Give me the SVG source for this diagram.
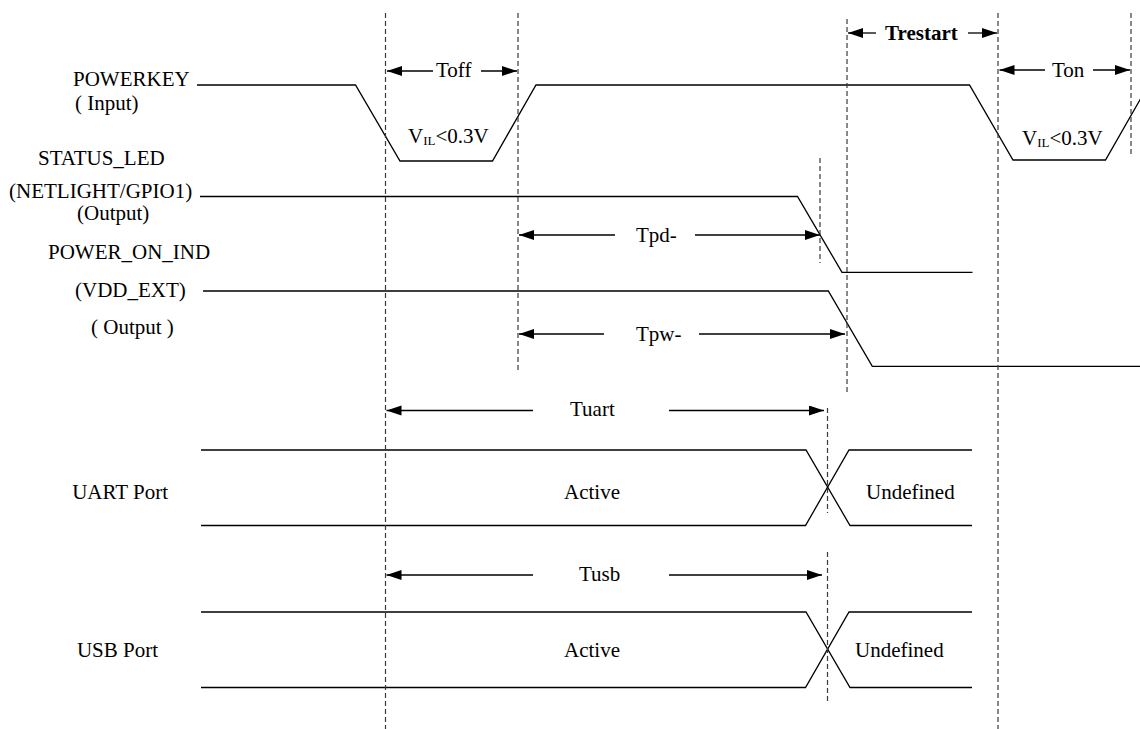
<svg xmlns="http://www.w3.org/2000/svg" width="1140" height="729" viewBox="0 0 1140 729">
  <defs>
    <marker id="ah" markerUnits="userSpaceOnUse" markerWidth="16" markerHeight="12" refX="15" refY="5" orient="auto">
      <path d="M0,0 L15,5 L0,10 z" fill="#000"/>
    </marker>
    <style>
      .sig { fill: none; stroke: #000; stroke-width: 1.3; }
      .dash { fill: none; stroke: #3a3a3a; stroke-width: 1.2; stroke-dasharray: 5 3; }
      .arr { fill: none; stroke: #000; stroke-width: 1.3; marker-end: url(#ah); }
      text { font-family: "Liberation Serif", "Times New Roman", "DejaVu Serif", serif; font-size: 21px; fill: #000; }
      .b { font-weight: bold; }
    </style>
  </defs>
  <rect width="1140" height="729" fill="#fff"/>

  <g id="powerkey">
    <text x="73" y="86">POWERKEY</text>
    <text x="75" y="110">( Input)</text>
    <path class="sig" d="M197,85 H355.5 L400,161 H492.5 L536,85 H969.5 L1013,160 H1105.5 L1149,84"/>
    <text x="408" y="143">V<tspan font-size="13" dy="2">IL</tspan><tspan dy="-2">&lt;0.3V</tspan></text>
    <text x="1022" y="145">V<tspan font-size="13" dy="2">IL</tspan><tspan dy="-2">&lt;0.3V</tspan></text>
  </g>

  <g id="status_led">
    <text x="38" y="165">STATUS_LED</text>
    <text x="9" y="198">(NETLIGHT/GPIO1)</text>
    <text x="77" y="220">(Output)</text>
    <path class="sig" d="M200,196.5 H797.5 L842,272.3 H972.5"/>
  </g>

  <g id="power_on_ind">
    <text x="48" y="259">POWER_ON_IND</text>
    <text x="75" y="297">(VDD_EXT)</text>
    <text x="91" y="334">( Output )</text>
    <path class="sig" d="M203,291 H828.3 L872.3,366.3 H1140"/>
  </g>

  <g id="uart_port">
    <text x="168" y="499" text-anchor="end">UART Port</text>
    <path class="sig" d="M201,450 H806 L850,525.5 H972"/>
    <path class="sig" d="M201,525.5 H805.5 L849,450 H972"/>
    <text x="564" y="499">Active</text>
    <text x="866" y="499">Undefined</text>
  </g>

  <g id="usb_port">
    <text x="158" y="657" text-anchor="end">USB Port</text>
    <path class="sig" d="M201,612 H806 L850,687.5 H972"/>
    <path class="sig" d="M201,687.5 H805.5 L849,612 H972"/>
    <text x="564" y="657">Active</text>
    <text x="855" y="657">Undefined</text>
  </g>

  <g id="connectors">
    <line class="dash" x1="385.5" y1="13" x2="385.5" y2="729"/>
    <line class="dash" x1="518" y1="13" x2="518" y2="372"/>
    <line class="dash" x1="847" y1="19" x2="847" y2="392"/>
    <line class="dash" x1="998" y1="13" x2="998" y2="729"/>
    <line class="dash" x1="1131" y1="13" x2="1131" y2="155"/>
    <line class="dash" x1="820" y1="158" x2="820" y2="263"/>
    <line class="dash" x1="827.5" y1="408" x2="827.5" y2="513"/>
    <line class="dash" x1="827.5" y1="552" x2="827.5" y2="702"/>

    <line class="arr" x1="433" y1="71" x2="387" y2="71"/>
    <line class="arr" x1="481" y1="71" x2="517" y2="71"/>
    <text x="436" y="77">Toff</text>

    <line class="arr" x1="876" y1="33" x2="848" y2="33"/>
    <line class="arr" x1="968" y1="33" x2="997" y2="33"/>
    <text class="b" x="885" y="40">Trestart</text>

    <line class="arr" x1="1045" y1="70" x2="999.5" y2="70"/>
    <line class="arr" x1="1093" y1="70" x2="1130" y2="70"/>
    <text x="1052" y="77">Ton</text>

    <line class="arr" x1="615" y1="235" x2="519" y2="235"/>
    <line class="arr" x1="695" y1="235" x2="820" y2="235"/>
    <text x="636" y="242">Tpd-</text>

    <line class="arr" x1="604" y1="334" x2="519" y2="334"/>
    <line class="arr" x1="699" y1="334" x2="845" y2="334"/>
    <text x="636" y="341">Tpw-</text>

    <line class="arr" x1="533" y1="410.5" x2="386.5" y2="410.5"/>
    <line class="arr" x1="669" y1="410.5" x2="824" y2="410.5"/>
    <text x="570" y="416">Tuart</text>

    <line class="arr" x1="533" y1="575" x2="386.5" y2="575"/>
    <line class="arr" x1="669" y1="575" x2="822" y2="575"/>
    <text x="579" y="581">Tusb</text>
  </g>
</svg>
